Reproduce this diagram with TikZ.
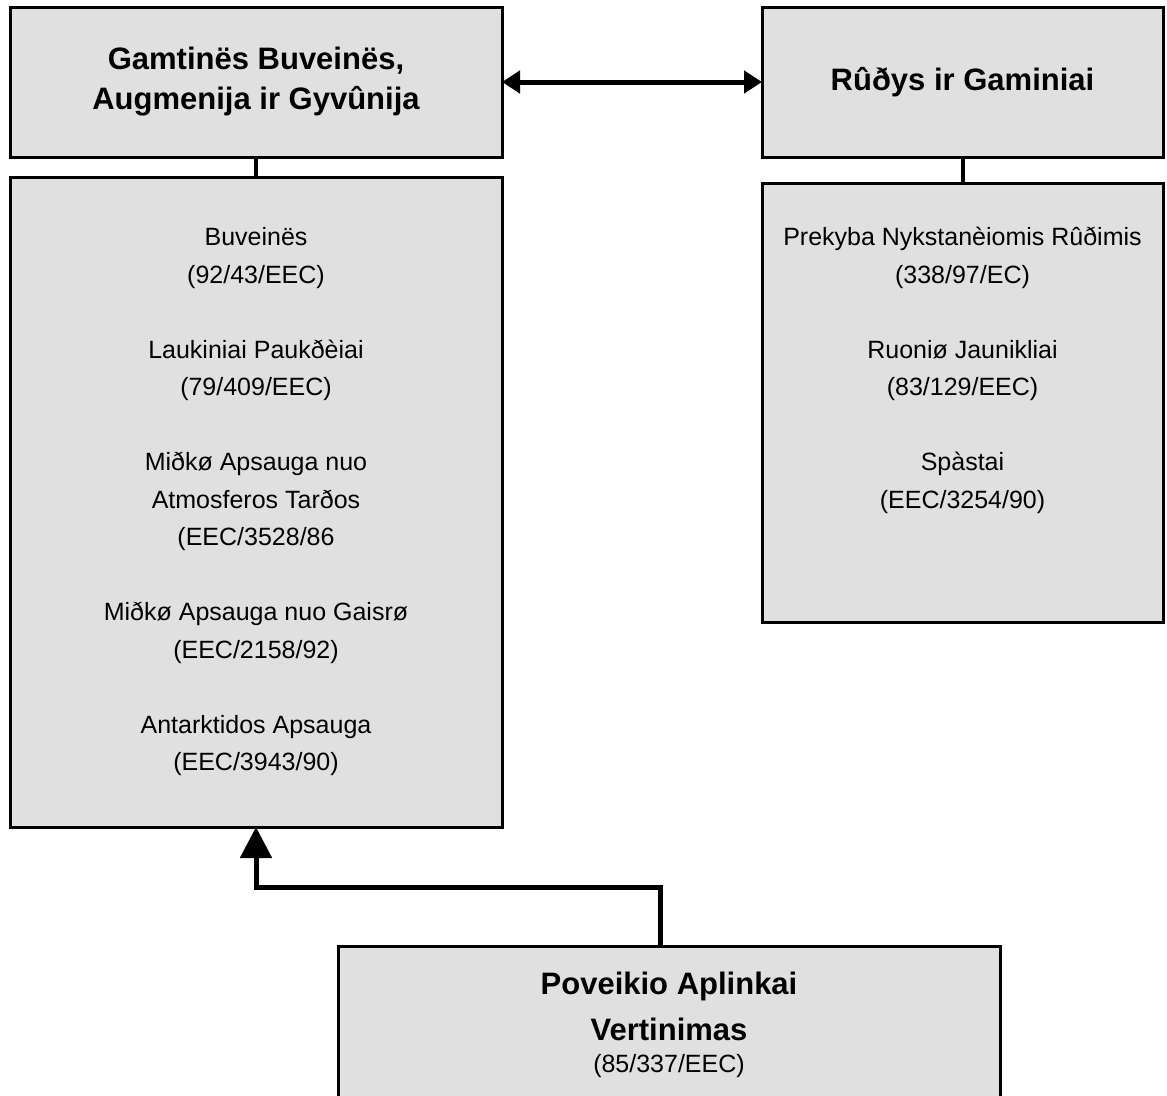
\documentclass[tikz,border=0pt]{standalone}
\usepackage{fontspec}
\setmainfont{Liberation Sans}
\usepackage{tikz}
\usetikzlibrary{positioning,arrows.meta}
\definecolor{ink}{HTML}{000000}
\definecolor{panelgray}{HTML}{E0E0E0}

\begin{document}
\begin{tikzpicture}[
  x=1pt, y=1pt,
  panel/.style = {draw=ink, fill=panelgray, line width=3pt, inner sep=0pt, outer sep=0pt, align=center},
  headbox/.style = {panel, font=\fontsize{31}{40}\selectfont\bfseries},
  listbox/.style = {panel, font=\fontsize{25}{37.5}\selectfont},
  listtext/.style = {inner sep=0pt, align=center, font=\fontsize{25}{37.5}\selectfont},
  link/.style = {line width=4pt, draw=ink},
  both/.style = {{Triangle[length=18pt,width=22pt]}-{Triangle[length=18pt,width=22pt]}, line width=5pt, draw=ink},
  flow/.style = {-{Triangle[length=31pt,width=31pt]}, line width=5pt, draw=ink},
]
\useasboundingbox (0,0) rectangle (1167,-1095);

\node[headbox, minimum width=492pt, minimum height=150pt] (habitats) at (256,-82)
  {Gamtinës Buveinës,\\Augmenija ir Gyvûnija};
\node[headbox, minimum width=401pt, minimum height=150pt] (species) at (962.5,-82)
  {Rûðys ir Gaminiai};

\node[listbox, minimum width=492pt, minimum height=650pt, below=20pt of habitats] (habdirs)
  {Buveinës\\(92/43/EEC)\\[37.5pt]
   Laukiniai Paukðèiai\\(79/409/EEC)\\[37.5pt]
   Miðkø Apsauga nuo\\Atmosferos Tarðos\\(EEC/3528/86\\[37.5pt]
   Miðkø Apsauga nuo Gaisrø\\(EEC/2158/92)\\[37.5pt]
   Antarktidos Apsauga\\(EEC/3943/90)};

\node[listbox, minimum width=401pt, minimum height=439pt, below=26pt of species] (trade) {};
\node[listtext, below=44pt of trade.north] (tradelist)
  {Prekyba Nykstanèiomis Rûðimis\\(338/97/EC)\\[37.5pt]
   Ruoniø Jaunikliai\\(83/129/EEC)\\[37.5pt]
   Spàstai\\(EEC/3254/90)};

\node[panel, minimum width=662pt, minimum height=157pt, font=\fontsize{31}{46}\selectfont\bfseries] (impact) at (669,-1024.5)
  {Poveikio Aplinkai\\Vertinimas\\[-14pt]{\fontsize{25}{30}\selectfont\mdseries(85/337/EEC)}};

\draw[link] (habitats.south) -- (habdirs.north);
\draw[link] (species.south) -- (trade.north);
\draw[both] (habitats.east) -- (species.west);
\draw[flow] ([xshift=-9pt]impact.north) -- ++(0,59) -| (habdirs.south);

\end{tikzpicture}
\end{document}
